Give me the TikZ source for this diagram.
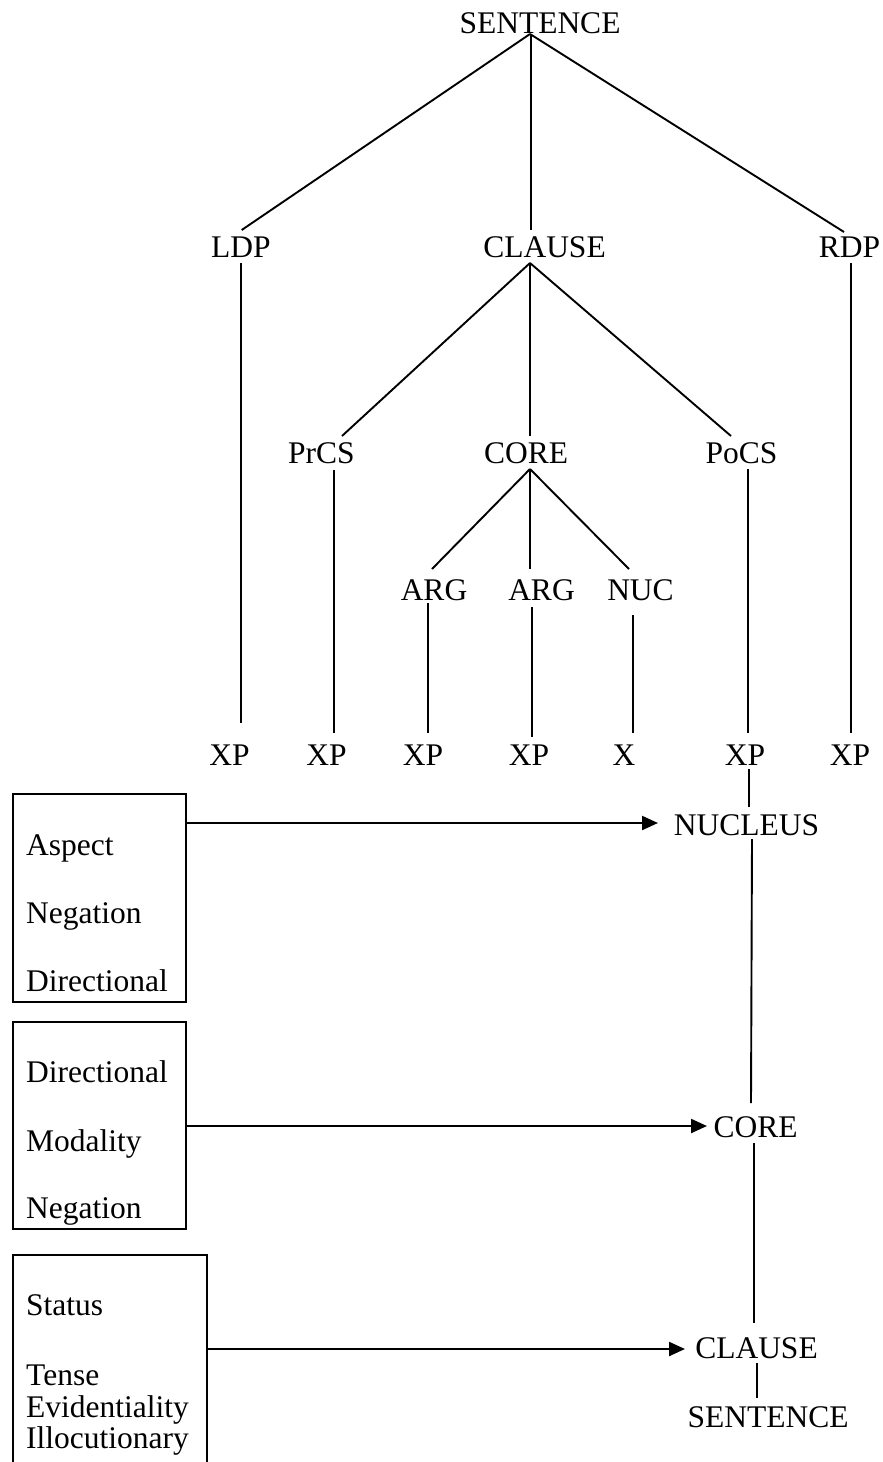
\documentclass[tikz,border=0pt]{standalone}
\usepackage{fontspec}
\setmainfont{Liberation Serif}
\usetikzlibrary{arrows.meta}

\tikzset{
  lbl/.style={font=\fontsize{31.5}{38}\selectfont, inner sep=0pt, anchor=base},
  boxlbl/.style={font=\fontsize{31.5}{38}\selectfont, inner sep=0pt, anchor=base west},
  branch/.style={line width=1.9pt},
  opbox/.style={draw, line width=2pt, anchor=north west, inner sep=0pt},
  feed/.style={line width=2.2pt, -{Triangle[length=16pt,width=14pt]}}
}

\begin{document}
\begin{tikzpicture}[x=1pt, y=-1pt]
\useasboundingbox (0,0) rectangle (883,1462);
\clip (0,0) rectangle (883,1462);

% ---- constituent tree ----
\node[lbl] (sent)   at (540,33)    {SENTENCE};
\node[lbl] (ldp)    at (241,257)   {LDP};
\node[lbl] (clause) at (544.5,257) {CLAUSE};
\node[lbl] (rdp)    at (849.5,257) {RDP};
\node[lbl] (prcs)   at (321.5,463) {PrCS};
\node[lbl] (core)   at (526,463)   {CORE};
\node[lbl] (pocs)   at (741.5,463) {PoCS};
\node[lbl] (arga)   at (434,600)   {ARG};
\node[lbl] (argb)   at (541.5,600) {ARG};
\node[lbl] (nuc)    at (640.5,600) {NUC};
\node[lbl] (xpa)    at (229.5,765) {XP};
\node[lbl] (xpb)    at (326.5,765) {XP};
\node[lbl] (xpc)    at (423,765)   {XP};
\node[lbl] (xpd)    at (529,765)   {XP};
\node[lbl] (xx)     at (624,765)   {X};
\node[lbl] (xpe)    at (745,765)   {XP};
\node[lbl] (xpf)    at (850,765)   {XP};

\draw[branch] ([shift={(-10,1)}]sent.base) -- ([shift={(0.7,-27)}]ldp.base);
\draw[branch] ([shift={(-9.3,1)}]sent.base) -- ([shift={(-13.8,-27)}]clause.base);
\draw[branch] ([shift={(-10,1)}]sent.base) -- ([shift={(-5.5,-25)}]rdp.base);

\draw[branch] ([shift={(0,6)}]ldp.base) -- ([shift={(11.5,-42)}]xpa.base);
\draw[branch] ([shift={(-14.5,6)}]clause.base) -- ([shift={(20.5,-27)}]prcs.base);
\draw[branch] ([shift={(-14.5,6)}]clause.base) -- ([shift={(4,-27)}]core.base);
\draw[branch] ([shift={(-14.5,6)}]clause.base) -- ([shift={(-10.5,-27)}]pocs.base);
\draw[branch] ([shift={(1.5,6)}]rdp.base) -- ([shift={(1,-32)}]xpf.base);

\draw[branch] ([shift={(12.5,7)}]prcs.base) -- ([shift={(7.5,-32)}]xpb.base);
\draw[branch] ([shift={(4,6)}]core.base) -- ([shift={(-2,-31)}]arga.base);
\draw[branch] ([shift={(4,6)}]core.base) -- ([shift={(-11.5,-31)}]argb.base);
\draw[branch] ([shift={(4,6)}]core.base) -- ([shift={(-11.5,-31)}]nuc.base);
\draw[branch] ([shift={(6.5,6)}]pocs.base) -- ([shift={(3,-32)}]xpe.base);

\draw[branch] ([shift={(-6,3)}]arga.base) -- ([shift={(5,-32)}]xpc.base);
\draw[branch] ([shift={(-9.5,7)}]argb.base) -- ([shift={(3,-28)}]xpd.base);
\draw[branch] ([shift={(-7.5,15)}]nuc.base) -- ([shift={(9,-32)}]xx.base);

% ---- layered projection ----
\node[lbl] (nucleus) at (746.5,835)  {NUCLEUS};
\node[lbl] (pcore)   at (755.5,1137) {CORE};
\node[lbl] (pclause) at (756.5,1358) {CLAUSE};
\node[lbl] (psent)   at (768,1427)   {SENTENCE};

\draw[branch] ([shift={(4,4)}]xpe.base) -- ([shift={(2.5,-28)}]nucleus.base);
\draw[branch] ([shift={(5.5,4)}]nucleus.base) -- ([shift={(-4.5,-34)}]pcore.base);
\draw[branch] ([shift={(-1.5,6)}]pcore.base) -- ([shift={(-2.5,-35)}]pclause.base);
\draw[branch] ([shift={(0.5,5)}]pclause.base) -- ([shift={(-11,-29)}]psent.base);

% ---- operator boxes ----
\node[opbox, minimum width=173pt, minimum height=208pt] (boxa) at (12,793) {};
\node[boxlbl] (asp)  at (26,855) {Aspect};
\node[boxlbl] (nega) at (26,923) {Negation};
\node[boxlbl] (dira) at (26,991) {Directional};

\node[opbox, minimum width=173pt, minimum height=207pt] (boxb) at (12,1021) {};
\node[boxlbl] (dirb) at (26,1082) {Directional};
\node[boxlbl] (mod)  at (26,1151) {Modality};
\node[boxlbl] (negb) at (26,1218) {Negation};

\node[opbox, minimum width=194pt, minimum height=240pt] (boxc) at (12,1254) {};
\node[boxlbl] (stat) at (26,1315) {Status};
\node[boxlbl] (tns)  at (26,1385) {Tense};
\node[boxlbl] (evid) at (26,1417) {Evidentiality};
\node[boxlbl] (illo) at (26,1448) {Illocutionary};

\draw[feed] ([shift={(0,30)}]boxa.north east) -- ([shift={(-88.5,-12)}]nucleus.base);
\draw[feed] ([shift={(0,105)}]boxb.north east) -- ([shift={(-48.5,-11)}]pcore.base);
\draw[feed] ([shift={(0,95)}]boxc.north east) -- ([shift={(-71.5,-9)}]pclause.base);
\end{tikzpicture}
\end{document}
